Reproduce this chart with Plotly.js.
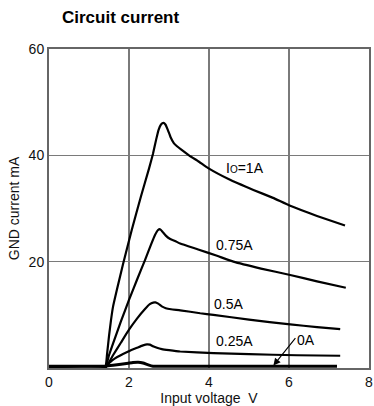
<!DOCTYPE html>
<html>
<head>
<meta charset="utf-8">
<script src="https://cdn.plot.ly/plotly-3.0.1.min.js"></script>
<style>
  html, body { margin: 0; padding: 0; background: #fff; }
  #chart { width: 374px; height: 406px; }
</style>
</head>
<body>
<div id="chart"></div>
<script>
// GND current (mA) against input voltage (V) for several output currents Io
const vIo1 = [0, 1.4, 1.45, 1.5, 1.55, 1.6, 1.7, 1.85, 2.07, 2.3, 2.5, 2.6, 2.68, 2.74, 2.8, 2.86, 2.91, 2.97, 3.04, 3.12, 3.2, 3.3, 3.5, 3.75, 3.98, 4.5, 5.11, 5.6, 6.03, 6.7, 7.4];
const iIo1 = [0, 0, 2.5, 6.0, 9.0, 11.5, 14.8, 19.5, 26.0, 32.3, 37.5, 40.3, 43.0, 44.8, 45.8, 46.1, 45.8, 44.8, 43.4, 42.3, 41.7, 41.1, 40.0, 38.8, 37.6, 35.5, 33.5, 32.0, 30.5, 28.6, 26.8];

const vIo075 = [0, 1.4, 1.5, 1.6, 1.8, 2.0, 2.2, 2.4, 2.55, 2.65, 2.72, 2.78, 2.84, 2.92, 3.02, 3.15, 3.28, 3.73, 4.2, 4.61, 5.3, 6.03, 6.7, 7.42];
const iIo075 = [0, 0, 2.4, 4.6, 8.8, 12.8, 16.6, 20.3, 23.2, 25.0, 25.9, 26.1, 25.6, 24.9, 24.3, 23.9, 23.4, 22.3, 21.1, 20.0, 18.7, 17.5, 16.3, 15.1];

const vIo05 = [0, 1.4, 1.6, 1.8, 2.0, 2.2, 2.4, 2.52, 2.6, 2.66, 2.73, 2.82, 2.92, 3.05, 3.28, 3.78, 4.11, 5.0, 6.03, 6.7, 7.28];
const iIo05 = [0, 0, 2.4, 4.8, 7.2, 9.3, 11.1, 12.0, 12.3, 12.35, 12.1, 11.6, 11.25, 11.05, 10.85, 10.3, 10.0, 9.1, 8.2, 7.7, 7.3];

const vIo025 = [0, 1.4, 1.5, 1.65, 1.98, 2.2, 2.35, 2.45, 2.52, 2.6, 2.7, 2.82, 3.0, 3.28, 4.11, 5.0, 6.2, 7.28];
const iIo025 = [0, 0, 0.9, 1.8, 3.1, 3.8, 4.25, 4.45, 4.4, 4.1, 3.8, 3.55, 3.35, 3.1, 2.8, 2.6, 2.4, 2.3];

const vIo0 = [0, 1.4, 1.6, 1.8, 1.98, 2.1, 2.23, 2.35, 2.48, 2.6, 2.75, 7.2];
const iIo0 = [0.35, 0.35, 0.5, 0.7, 0.9, 1.05, 1.1, 0.95, 0.6, 0.35, 0.35, 0.35];

const seriesNames = ['Io=1A', '0.75A', '0.5A', '0.25A', '0A'];
const xTicks = [0, 2, 4, 6, 8];
const yTicks = [20, 40, 60];

const font = 'Liberation Sans, Arial, Helvetica, sans-serif';

function curve(x, y, name, width) {
  return {
    x: x, y: y, name: name, type: 'scatter', mode: 'lines',
    line: { color: '#000', width: width, shape: 'spline', smoothing: 0.35 },
    hoverinfo: 'skip'
  };
}

const data = [
  curve(vIo1, iIo1, seriesNames[0], 2.2),
  curve(vIo075, iIo075, seriesNames[1], 2.2),
  curve(vIo05, iIo05, seriesNames[2], 2.2),
  curve(vIo025, iIo025, seriesNames[3], 2.2),
  curve(vIo0, iIo0, seriesNames[4], 3)
];

const labelFont = { family: font, size: 14, color: '#000' };

const layout = {
  width: 374, height: 406,
  margin: { l: 49, r: 5, t: 49, b: 38 },
  paper_bgcolor: '#fff', plot_bgcolor: '#fff',
  showlegend: false,
  title: {
    text: '<b>Circuit current</b>',
    font: { family: font, size: 17, color: '#000' },
    x: 62 / 374, xanchor: 'left', xref: 'container',
    y: 1 - 11 / 406, yanchor: 'top', yref: 'container'
  },
  xaxis: {
    range: [0, 8], tickvals: xTicks, ticks: '',
    showgrid: true, gridcolor: '#7a7a7a', gridwidth: 1.4,
    showline: true, linecolor: '#666', linewidth: 2, mirror: true,
    zeroline: false, tickfont: { family: font, size: 14, color: '#111' },
    title: { text: 'Input voltage  V', font: { family: font, size: 14, color: '#111' }, standoff: 0 }
  },
  yaxis: {
    range: [0, 60], tickvals: yTicks, ticks: '',
    showgrid: true, gridcolor: '#7a7a7a', gridwidth: 1.4,
    showline: true, linecolor: '#666', linewidth: 2, mirror: true,
    zeroline: false, tickfont: { family: font, size: 14, color: '#111' },
    title: { text: 'GND current mA', font: { family: font, size: 14, color: '#111' }, standoff: 6 }
  },
  annotations: [
    { x: 4.9, y: 37.6, text: 'I<span style="font-size:10px">O</span>=1A', showarrow: false, font: labelFont },
    { x: 4.625, y: 23.1, text: seriesNames[1], showarrow: false, font: labelFont },
    { x: 4.475, y: 12.0, text: seriesNames[2], showarrow: false, font: labelFont },
    { x: 4.625, y: 5.1, text: seriesNames[3], showarrow: false, font: labelFont },
    { x: 6.425, y: 5.3, text: seriesNames[4], showarrow: false, font: labelFont },
    { x: 5.61, y: 0.45, ax: 6.19, ay: 5.9, axref: 'x', ayref: 'y', text: '',
      showarrow: true, arrowhead: 2, arrowsize: 1.3, arrowwidth: 1.1, arrowcolor: '#000' }
  ]
};

Plotly.newPlot('chart', data, layout, { staticPlot: true, displayModeBar: false });
</script>
</body>
</html>
